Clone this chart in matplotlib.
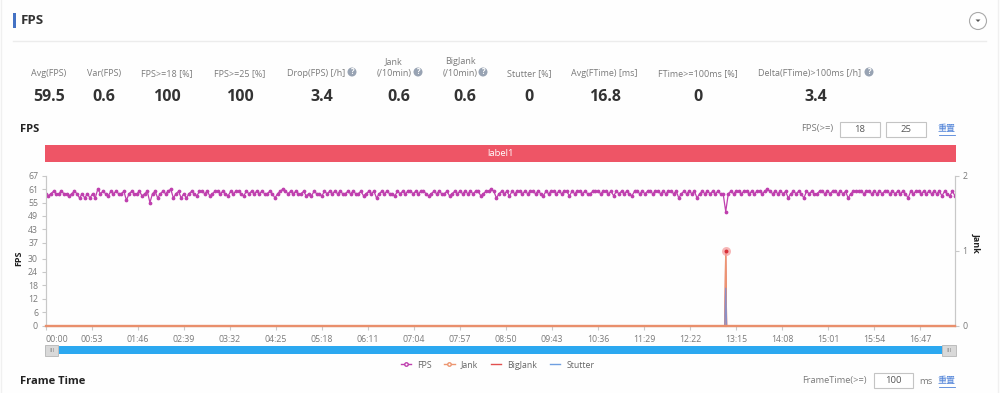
#!/usr/bin/env python
"""
FPS panel: summary numbers on top, FPS / jank time series below.
"""

import numpy as np
import matplotlib
matplotlib.use("Agg")
import matplotlib.pyplot as plt
from matplotlib.lines import Line2D
from matplotlib.patches import Rectangle, Circle, Polygon

plt.rcParams['font.family'] = ['Open Sans', 'Noto Sans CJK SC', 'DejaVu Sans']

# summary row
metric_names = ["Avg(FPS)", "Var(FPS)", "FPS>=18 [%]", "FPS>=25 [%]", "Drop(FPS) [/h]",
                "Jank\n(/10min)", "BigJank\n(/10min)", "Stutter [%]", "Avg(FTime) [ms]",
                "FTime>=100ms [%]", "Delta(FTime)>100ms [/h]"]
metric_values = ["59.5", "0.6", "100", "100", "3.4", "0.6", "0.6", "0", "16.8", "0", "3.4"]

# axes
time_labels = ["00:00", "00:53", "01:46", "02:39", "03:32", "04:25", "05:18", "06:11",
               "07:04", "07:57", "08:50", "09:43", "10:36", "11:29", "12:22", "13:15",
               "14:08", "15:01", "15:54", "16:47"]
fps_ticks = [0, 6, 12, 18, 24, 30, 37, 43, 49, 55, 61, 67]
jank_ticks = [0, 1, 2]

# one FPS reading every 3 seconds
fps_values = [
    59, 58, 59, 60, 59, 59, 60, 59, 59, 58, 59, 60, 59, 57, 59, 57, 59, 57, 59, 57,
    61, 59, 60, 59, 58, 60, 59, 60, 59, 59, 60, 56, 59, 60, 59, 59, 60, 58, 59, 60,
    55, 59, 60, 57, 59, 60, 59, 60, 61, 57, 59, 60, 57, 59, 57, 59, 60, 59, 58, 60,
    60, 59, 60, 58, 59, 60, 60, 59, 60, 59, 58, 60, 59, 60, 60, 59, 58, 60, 59, 60,
    59, 60, 59, 60, 59, 59, 60, 59, 57, 59, 60, 61, 60, 59, 60, 59, 60, 59, 59, 60,
    58, 59, 58, 60, 59, 59, 58, 60, 59, 60, 59, 60, 59, 60, 59, 59, 60, 59, 60, 59,
    59, 60, 58, 59, 60, 59, 60, 57, 59, 60, 59, 60, 59, 59, 58, 60, 59, 60, 59, 60,
    60, 59, 60, 59, 60, 60, 59, 58, 59, 60, 59, 60, 59, 59, 60, 58, 59, 60, 59, 60,
    59, 60, 59, 60, 59, 60, 60, 58, 59, 60, 60, 61, 60, 57, 59, 60, 59, 60, 58, 60,
    59, 60, 60, 59, 60, 59, 60, 60, 59, 60, 59, 58, 60, 59, 60, 60, 59, 60, 59, 60,
    60, 58, 60, 59, 60, 60, 59, 60, 59, 59, 60, 60, 60, 59, 60, 60, 59, 60, 58, 60,
    59, 60, 59, 60, 59, 58, 60, 60, 59, 60, 59, 60, 60, 59, 60, 60, 59, 60, 59, 60,
    60, 59, 60, 57, 59, 60, 59, 60, 59, 60, 57, 59, 60, 59, 60, 59, 60, 59, 60, 59,
    59, 51, 59, 60, 59, 60, 60, 59, 60, 60, 59, 60, 59, 60, 60, 59, 60, 61, 60, 59,
    60, 59, 60, 59, 60, 57, 59, 60, 59, 60, 59, 57, 60, 59, 60, 59, 59, 60, 60, 59,
    60, 59, 60, 60, 59, 60, 59, 60, 57, 59, 60, 60, 60, 60, 59, 60, 60, 59, 60, 59,
    60, 59, 60, 60, 59, 60, 59, 60, 59, 60, 59, 57, 60, 59, 60, 60, 59, 60, 59, 60,
    59, 60, 59, 60, 58, 60, 59, 58, 60, 58,
]
fps_times = np.arange(len(fps_values)) * 3

# these three stay at zero except for the one spike
event_times = [0, 782, 783, 784, 1047]
jank_values = [0, 0, 1, 0, 0]
bigjank_values = [0, 0, 1, 0, 0]
stutter_values = [0, 0, 0.5, 0, 0]

W, H = 1000, 393
fig = plt.figure(figsize=(W / 100, H / 100), dpi=100, facecolor='#fefefe')

# plot area in pixels: x 45.7-955, y 175.7-325.7
ax = fig.add_axes([45.7 / W, 1 - 325.7 / H, 909.3 / W, 150 / H])
ax2 = ax.twinx()

grey = '#7a7a7a'
axis_grey = '#c8c8c8'
fps_color = '#bf3fae'
jank_color = '#ec9670'
bigjank_color = '#e2504f'
stutter_color = '#6f9fe0'

ax.plot(fps_times, fps_values, color=fps_color, lw=0.9, marker='o', ms=1.7, zorder=3)
ax2.plot(event_times, bigjank_values, color=bigjank_color, lw=0.9, clip_on=False, zorder=2)
ax2.plot(event_times, jank_values, color=jank_color, lw=0.9, clip_on=False, zorder=3)
ax2.plot(event_times, stutter_values, color='#8a90c8', lw=0.9, zorder=4)
# flat baseline of the three zero series
ax2.plot(event_times[:2], jank_values[:2], color='#e98f6c', lw=1.7, clip_on=False, zorder=5)
ax2.plot(event_times[3:], jank_values[3:], color='#e98f6c', lw=1.7, clip_on=False, zorder=5)
ax2.scatter(event_times[2], jank_values[2], s=42, color='#f4a0a0', alpha=0.75, lw=0, zorder=6)
ax2.scatter(event_times[2], jank_values[2], s=8, color='#d8303a', lw=0, zorder=7)

ax.set_xlim(0, 1047)
ax.set_ylim(0, 67)
ax2.set_ylim(0, 2)
ax.set_xticks(np.arange(len(time_labels)) * 53)
ax.set_xticklabels(time_labels)
ax.get_xticklabels()[0].set_ha('left')
ax.set_yticks(fps_ticks)
ax2.set_yticks(jank_ticks)

for a in (ax, ax2):
    a.patch.set_alpha(0)
    a.spines['top'].set_visible(False)
    for s in ('left', 'right', 'bottom'):
        a.spines[s].set_color(axis_grey)
    a.tick_params(colors=grey, labelsize=6.3, length=3, width=0.8, color=axis_grey, pad=2.5)
ax.tick_params(axis='x', pad=3.5)

ax.set_zorder(2)
ax2.set_zorder(3)

legend_handles = [
    Line2D([], [], color=fps_color, lw=1, marker='o', ms=2.5, mfc='white', label='FPS'),
    Line2D([], [], color=jank_color, lw=1, marker='o', ms=2.5, mfc='white', label='Jank'),
    Line2D([], [], color=bigjank_color, lw=1, label='BigJank'),
    Line2D([], [], color=stutter_color, lw=1, label='Stutter'),
]
fig.legend(handles=legend_handles, loc='center', bbox_to_anchor=(497.5 / W, 1 - 365 / H),
           ncol=4, frameon=False, fontsize=6.3, labelcolor='#666666', handlelength=1.15,
           handletextpad=0.7, columnspacing=1.5, borderpad=0)

# everything else is page furniture, drawn in pixel coordinates
ui = fig.add_axes([0, 0, 1, 1], zorder=1)
ui.set_xlim(0, W)
ui.set_ylim(H, 0)
ui.axis('off')


def box(x0, y0, x1, y1, **kw):
    ui.add_patch(Rectangle((x0, y0), x1 - x0, y1 - y0, **kw))


def help_icon(x, y):
    ui.add_patch(Circle((x, y), 4.5, color='#98a3b3', lw=0))
    ui.text(x, y, "?", color='white', fontsize=5.5, fontweight='bold', ha='center', va='center')


def reset_link(x, y):
    ui.text(x, y, "重置", color='#4f82d8', fontsize=6.5, ha='center', va='center')
    ui.plot([x - 8, x + 8], [y + 5.5, y + 5.5], color='#4f82d8', lw=0.6)


# page edges
ui.plot([1, 1], [0, H], color='#f0f0f0', lw=1)
ui.plot([998, 998], [0, H], color='#f0f0f0', lw=1)

# header
box(13, 13, 15.5, 28, color='#4472c4', lw=0)
ui.text(21, 20.5, "FPS", fontsize=9.5, fontweight='bold', color='#333333', ha='left', va='center')
ui.plot([13, 986], [41, 41], color='#ececec', lw=1)
ui.add_patch(Circle((978, 21), 8.5, fc='white', ec='#aaaaaa', lw=0.8))
ui.add_patch(Polygon([(975.5, 19.5), (980.5, 19.5), (978, 22)], color='#555555', lw=0))

# summary numbers
label_x = [49, 104, 167, 240, 316, 394, 460, 529, 604, 698, 810]
value_x = [49, 104, 167, 240, 322, 399, 465, 529, 605, 698, 816]
icon_x = {4: 352, 5: 418, 6: 483, 10: 869}
for i, name in enumerate(metric_names):
    ui.text(label_x[i], 78, name, fontsize=6.5, color=grey, ha='center', va='bottom', linespacing=1.45)
    ui.text(value_x[i], 97, metric_values[i], fontsize=11.5, fontweight='bold', color='#333333',
            ha='center', va='center')
    if i in icon_x:
        help_icon(icon_x[i], 72)

# FPS section header and threshold inputs
ui.text(20, 130, "FPS", fontsize=8, fontweight='bold', color='#222222', ha='left', va='center')
ui.text(833, 129, "FPS(>=)", fontsize=6.8, color=grey, ha='right', va='center')
for x0, x1, s in [(839.5, 880, "18"), (886, 925.5, "25")]:
    box(x0, 121.5, x1, 136.5, fc='white', ec='#c4c4c4', lw=0.8)
    ui.text((x0 + x1) / 2, 129, s, fontsize=6.8, color='#555555', ha='center', va='center')
reset_link(947, 129)

# label band
box(45, 145, 955.5, 162, color='#ee5566', lw=0)
ui.text(500, 153.5, "label1", fontsize=6.8, color='white', ha='center', va='center')

# axis titles
ui.text(19, 258, "FPS", fontsize=6.5, fontweight='bold', color='#222222', rotation=90,
        ha='center', va='center')
ui.text(976, 243, "Jank", fontsize=6.5, fontweight='bold', color='#222222', rotation=270,
        ha='center', va='center')

# zoom slider
box(45, 345.5, 955, 354, color='#2ba8f0', lw=0)
for x0, x1 in [(45, 58), (942, 955.5)]:
    box(x0, 345, x1, 356, fc='#d9d9d9', ec='#bdbdbd', lw=0.7)
    ui.text((x0 + x1) / 2, 350.5, "III", fontsize=4.5, color='#888888', ha='center', va='center')

# Frame Time section header
ui.text(20, 382, "Frame Time", fontsize=8, fontweight='bold', color='#222222', ha='left', va='center')
ui.text(867, 381, "FrameTime(>=)", fontsize=6.7, color=grey, ha='right', va='center')
box(874, 373, 913, 388, fc='white', ec='#c4c4c4', lw=0.8)
ui.text(893.5, 380.5, "100", fontsize=6.8, color='#555555', ha='center', va='center')
ui.text(926, 381, "ms", fontsize=6.8, color=grey, ha='center', va='center')
reset_link(947, 381)

fig.savefig("out.png", dpi=100, facecolor=fig.get_facecolor())
